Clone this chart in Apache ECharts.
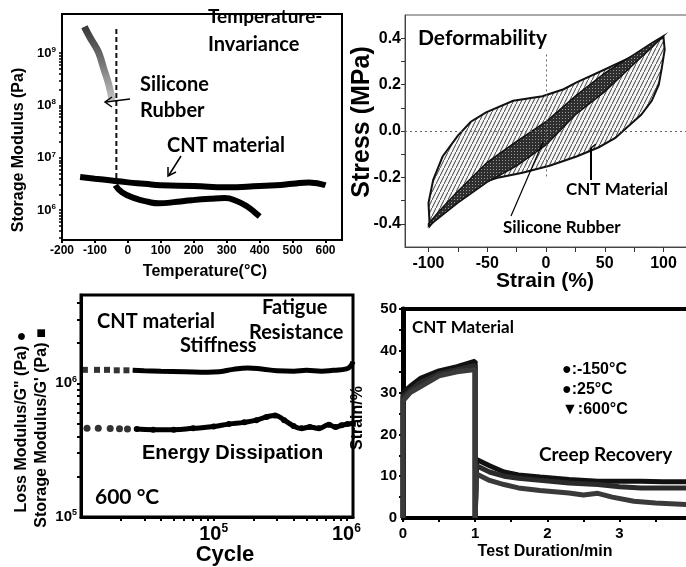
<!DOCTYPE html>
<html><head><meta charset="utf-8">
<script src="https://cdn.jsdelivr.net/npm/echarts@6/dist/echarts.min.js"></script>
<style>html,body{margin:0;padding:0;background:#fff}#c{width:686px;height:567px}</style>
</head><body><div id="c"></div>
<script>
// ---------- Panel A: storage modulus vs temperature ----------
const tempTicks = [-200, -100, 0, 100, 200, 300, 400, 500, 600];
const modExpTicks = [6, 7, 8, 9];
const cntTemp = [-145, -100, -50, 0, 50, 100, 200, 300, 400, 450, 500, 550, 600];
const cntMod  = [4.3e6, 4.0e6, 3.7e6, 3.4e6, 3.2e6, 3.0e6, 2.9e6, 2.75e6, 2.9e6, 3.0e6, 3.2e6, 3.4e6, 3.0e6];
const silHiTemp = [-132, -115, -100, -88, -73, -58, -48];
const silHiMod  = [3.2e9, 2.0e9, 1.4e9, 1.0e9, 5.0e8, 2.5e8, 1.25e8];
const silLoTemp = [-38, -18, 20, 60, 94, 150, 194, 250, 294, 330, 360, 385, 400];
const silLoMod  = [3.0e6, 2.2e6, 1.7e6, 1.45e6, 1.35e6, 1.45e6, 1.55e6, 1.65e6, 1.7e6, 1.5e6, 1.2e6, 9.1e5, 7.6e5];
const transTemp = [-35, -35];
const transMod  = [2.9e9, 3.7e6];

// ---------- Panel B: stress-strain hysteresis ----------
const strainTicks = [-100, -50, 0, 50, 100];
const stressTicks = [-0.4, -0.2, 0, 0.2, 0.4];
const cntLoopStrain = [-99, -100, -96, -88, -75, -64, -51, -28, -3, 15, 26, 50, 75, 100, 101, 98.5, 96, 90, 81, 70, 59, 45, 26, 3, -20, -40, -59, -76, -90, -99];
const cntLoopStress = [-0.41, -0.31, -0.21, -0.11, -0.02, 0.04, 0.08, 0.13, 0.15, 0.18, 0.21, 0.265, 0.325, 0.405, 0.35, 0.27, 0.20, 0.13, 0.07, 0.02, -0.03, -0.07, -0.11, -0.15, -0.18, -0.20, -0.23, -0.28, -0.355, -0.41];
const silLoopStrain = [-100, -90, -75, -50, -25, 0, 25, 50, 75, 90, 100, 90, 75, 50, 25, 0, -25, -50, -75, -90, -100];
const silLoopStress = [-0.40, -0.34, -0.26, -0.135, -0.045, 0.04, 0.15, 0.25, 0.33, 0.38, 0.41, 0.36, 0.29, 0.17, 0.07, -0.06, -0.15, -0.22, -0.31, -0.37, -0.41];

// ---------- Panel C: fatigue ----------
const cycleExpTicks = [5, 6];
const fatModExpTicks = [5, 6];
const stiffEarlyCyc = [1.07e4, 1.32e4, 1.57e4, 1.86e4, 2.2e4];
const stiffEarlyMod = [1.26e6, 1.26e6, 1.26e6, 1.25e6, 1.25e6];
const stiffCyc = [2.45e4, 3e4, 4e4, 6e4, 9e4, 1.1e5, 1.4e5, 1.8e5, 2.3e5, 3e5, 4e5, 5e5, 6.5e5, 8e5, 1e6, 1.08e6, 1.12e6];
const stiffMod = [1.25e6, 1.24e6, 1.23e6, 1.22e6, 1.21e6, 1.22e6, 1.27e6, 1.3e6, 1.28e6, 1.24e6, 1.23e6, 1.25e6, 1.23e6, 1.25e6, 1.28e6, 1.35e6, 1.45e6];
const dissEarlyCyc = [1.11e4, 1.35e4, 1.66e4, 1.95e4, 2.24e4];
const dissEarlyMod = [4.6e5, 4.6e5, 4.58e5, 4.57e5, 4.55e5];
const dissCyc = [2.63e4, 3.5e4, 5e4, 7e4, 1e5, 1.3e5, 1.7e5, 2.1e5, 2.5e5, 2.9e5, 3.4e5, 4e5, 4.6e5, 5.3e5, 6.2e5, 7.4e5, 8.3e5, 9.2e5, 1.02e6, 1.12e6];
const dissMod = [4.55e5, 4.5e5, 4.5e5, 4.6e5, 4.75e5, 4.95e5, 5.1e5, 5.3e5, 5.6e5, 5.75e5, 5.3e5, 4.8e5, 4.6e5, 4.7e5, 4.6e5, 4.9e5, 4.7e5, 4.85e5, 4.95e5, 5.0e5];

// ---------- Panel D: creep recovery ----------
const timeTicks = [0, 1, 2, 3];
const creepPctTicks = [0, 10, 20, 30, 40, 50];
const tM150 = [0, 0, 0.1, 0.25, 0.5, 0.75, 1.0, 1.0, 1.02, 1.2, 1.4, 1.6, 1.9, 2.3, 2.7, 3.0, 3.3, 3.6, 3.95];
const sM150 = [0, 30, 31.5, 33.5, 35.2, 36.2, 37.5, 0, 14, 12.5, 11, 10.3, 9.8, 9.2, 8.8, 8.8, 8.8, 8.7, 8.7];
const t25 = [0, 0, 0.1, 0.25, 0.5, 0.75, 1.0, 1.0, 1.02, 1.2, 1.4, 1.6, 1.9, 2.3, 2.7, 3.0, 3.3, 3.6, 3.95];
const s25 = [0, 29, 30.5, 32.5, 34.5, 35.5, 36.5, 0, 12.5, 11, 10, 9.5, 9, 8.4, 8, 7.5, 7.2, 7.2, 7.2];
const t600 = [0, 0, 0.1, 0.25, 0.5, 0.75, 1.0, 1.0, 1.02, 1.2, 1.4, 1.6, 1.9, 2.3, 2.5, 2.7, 2.9, 3.2, 3.5, 3.95];
const s600 = [0, 28, 30, 31.5, 34, 35, 35.5, 0, 10.5, 9, 8, 7.2, 6.6, 6, 5.5, 5.9, 5, 4, 3.6, 3.2];

// ---------- helpers ----------
const L = Math.log10;
const zipLog = (xs, ys, logX) => xs.map((x, i) => [logX ? L(x) : x, L(ys[i])]);
const zip = (xs, ys) => xs.map((x, i) => [x, ys[i]]);
const minorLog = (a, b) => { const r = []; for (let n = a; n < b; n++) for (let k = 1; k < 10; k++) r.push(n + L(k)); r.push(b); return r; };
const TF = '"Liberation Sans", Arial, sans-serif';
const AF = 'Lato, "Open Sans", sans-serif';
const supFmt = v => '{b|10}{s|' + Math.round(v) + '}';
const supRich = (fs) => ({ b: { fontSize: fs, fontWeight: 'bold', fontFamily: TF, color: '#000' },
                           s: { fontSize: Math.round(fs * 0.62), fontWeight: 'bold', fontFamily: TF, color: '#000', padding: [0, 0, Math.round(fs * 0.55), 0] } });

function hatch() {
  const c = document.createElement('canvas'); c.width = 4; c.height = 8;
  const g = c.getContext('2d'); g.fillStyle = '#f6f6f6'; g.fillRect(0, 0, 4, 8);
  g.strokeStyle = '#2a2a2a'; g.lineWidth = 0.9; g.beginPath(); g.moveTo(-1, 10); g.lineTo(5, -2); g.stroke();
  return c;
}
function darkHatch() {
  const c = document.createElement('canvas'); c.width = 3; c.height = 3;
  const g = c.getContext('2d'); g.fillStyle = '#2e2e2e'; g.fillRect(0, 0, 3, 3);
  g.fillStyle = '#9a9a9a'; g.fillRect(1, 1, 1, 1);
  return c;
}
function loopRenderer(xs, ys, fill, lw) {
  return function (params, api) {
    const pts = xs.map((x, i) => api.coord([x, ys[i]]));
    return { type: 'polygon', shape: { points: pts }, style: { fill: fill, stroke: '#111', lineWidth: lw } };
  };
}

const chart = echarts.init(document.getElementById('c'), null, { renderer: 'canvas' });

const baseLabel = (fs) => ({ fontFamily: TF, fontWeight: 'bold', fontSize: fs, color: '#000' });

const option = {
  animation: false,
  backgroundColor: '#fff',
  grid: [
    { left: 62, top: 14, width: 280, height: 226, show: true, borderColor: '#000', borderWidth: 2, outerBoundsMode: 'none' },
    { left: 405, top: 15, width: 282, height: 232, show: true, borderColor: '#555', borderWidth: 1, outerBoundsMode: 'none' },
    { left: 81, top: 295, width: 272, height: 222, show: true, borderColor: '#000', borderWidth: 3, outerBoundsMode: 'none' },
    { left: 403, top: 309, width: 285, height: 209, show: true, borderColor: '#000', borderWidth: 4, outerBoundsMode: 'none' }
  ],
  xAxis: [
    { gridIndex: 0, type: 'value', min: -200, max: 650, splitLine: { show: false },
      axisLine: { onZero: false, lineStyle: { color: '#000', width: 2 } },
      axisTick: { customValues: tempTicks, length: 3, lineStyle: { color: '#000', width: 2 } },
      axisLabel: Object.assign(baseLabel(12), { customValues: tempTicks, margin: 5 }) },
    { gridIndex: 1, type: 'value', min: -120, max: 120, splitLine: { show: false },
      axisLine: { onZero: false, lineStyle: { color: '#444', width: 1 } },
      axisTick: { customValues: [-100, -75, -50, -25, 0, 25, 50, 75, 100], length: 5, lineStyle: { color: '#333' } },
      axisLabel: Object.assign(baseLabel(16), { customValues: strainTicks, margin: 9 }) },
    { gridIndex: 2, type: 'value', min: 4, max: 6.05, splitLine: { show: false },
      axisLine: { onZero: false, lineStyle: { color: '#000', width: 3 } },
      axisTick: { customValues: minorLog(4, 6).filter(v => v > 4.01), length: 4, inside: false, lineStyle: { color: '#000', width: 2 } },
      axisLabel: { customValues: cycleExpTicks, formatter: supFmt, rich: supRich(20), margin: 6 } },
    { gridIndex: 3, type: 'value', min: 0, max: 3.95, splitLine: { show: false },
      axisLine: { onZero: false, lineStyle: { color: '#000', width: 4 } },
      axisTick: { customValues: [0, 0.5, 1, 1.5, 2, 2.5, 3, 3.5], length: 4, lineStyle: { color: '#000', width: 2 } },
      axisLabel: Object.assign(baseLabel(15), { customValues: timeTicks, margin: 8 }) }
  ],
  yAxis: [
    { gridIndex: 0, type: 'value', min: 5.43, max: 9.75, splitLine: { show: false },
      axisLine: { onZero: false, lineStyle: { color: '#000', width: 2 } },
      axisTick: { customValues: minorLog(5, 9).filter(v => v > 5.43), length: 3, lineStyle: { color: '#000', width: 1.5 } },
      axisLabel: { customValues: modExpTicks, formatter: supFmt, rich: supRich(13), margin: 6 } },
    { gridIndex: 1, type: 'value', min: -0.5, max: 0.5, splitLine: { show: false },
      axisLine: { onZero: false, lineStyle: { color: '#444', width: 1 } },
      axisTick: { customValues: [-0.4, -0.3, -0.2, -0.1, 0, 0.1, 0.2, 0.3, 0.4], length: 4, lineStyle: { color: '#333' } },
      axisLabel: Object.assign(baseLabel(16), { customValues: stressTicks, formatter: v => v.toFixed(1), margin: 4 }) },
    { gridIndex: 2, type: 'value', min: 5, max: 6.66, splitLine: { show: false },
      axisLine: { onZero: false, lineStyle: { color: '#000', width: 3 } },
      axisTick: { customValues: minorLog(5, 6).concat([6 + L(2), 6 + L(3), 6 + L(4)]).filter(v => v > 5.01), length: 4, lineStyle: { color: '#000', width: 2 } },
      axisLabel: { customValues: fatModExpTicks, formatter: supFmt, rich: supRich(15), margin: 4 } },
    { gridIndex: 3, type: 'value', min: 0, max: 50, splitLine: { show: false },
      axisLine: { onZero: false, lineStyle: { color: '#000', width: 5 } },
      axisTick: { customValues: [5, 10, 15, 20, 25, 30, 35, 40, 45, 50], length: 4, lineStyle: { color: '#000', width: 2 } },
      axisLabel: Object.assign(baseLabel(15), { customValues: creepPctTicks, margin: 6 }) }
  ],
  series: [
    // Panel A
    { type: 'line', xAxisIndex: 0, yAxisIndex: 0, data: zipLog(cntTemp, cntMod, false), smooth: true, symbol: 'none',
      lineStyle: { color: '#000', width: 6 } },
    { type: 'line', xAxisIndex: 0, yAxisIndex: 0, data: zipLog(silHiTemp, silHiMod, false), smooth: true, symbol: 'none',
      lineStyle: { width: 7, color: { type: 'linear', x: 0, y: 0, x2: 0, y2: 1, colorStops: [{ offset: 0, color: '#333' }, { offset: 0.5, color: '#777' }, { offset: 1, color: '#c8c8c8' }] } } },
    { type: 'line', xAxisIndex: 0, yAxisIndex: 0, data: zipLog(silLoTemp, silLoMod, false), smooth: true, symbol: 'none',
      lineStyle: { color: '#000', width: 6 } },
    { type: 'line', xAxisIndex: 0, yAxisIndex: 0, data: zipLog(transTemp, transMod, false), symbol: 'none',
      lineStyle: { color: '#111', width: 2, type: [5, 3] } },
    // Panel B
    { type: 'custom', xAxisIndex: 1, yAxisIndex: 1, data: [[0, 0]], silent: true, clip: false, z: 3,
      renderItem: loopRenderer(cntLoopStrain, cntLoopStress, { image: hatch(), repeat: 'repeat' }, 2) },
    { type: 'custom', xAxisIndex: 1, yAxisIndex: 1, data: [[0, 0]], silent: true, clip: false, z: 4,
      renderItem: loopRenderer(silLoopStrain, silLoopStress, { image: darkHatch(), repeat: 'repeat' }, 1.5) },
    { type: 'line', xAxisIndex: 1, yAxisIndex: 1, data: [], z: 1,
      markLine: { silent: true, symbol: 'none', label: { show: false },
        lineStyle: { color: '#666', type: [2, 3], width: 1 },
        data: [{ yAxis: 0 }, [{ coord: [0, 0.33] }, { coord: [0, -0.2] }]] } },
    // Panel C
    { type: 'line', xAxisIndex: 2, yAxisIndex: 2, data: zipLog(stiffCyc, stiffMod, true), smooth: true, symbol: 'none',
      lineStyle: { color: '#000', width: 5 } },
    { type: 'scatter', xAxisIndex: 2, yAxisIndex: 2, data: zipLog(stiffEarlyCyc, stiffEarlyMod, true), symbol: 'rect', symbolSize: 6,
      itemStyle: { color: '#000' } },
    { type: 'line', xAxisIndex: 2, yAxisIndex: 2, data: zipLog(dissCyc, dissMod, true), smooth: true, symbol: 'circle', symbolSize: 6,
      showSymbol: true, itemStyle: { color: '#000' }, lineStyle: { color: '#000', width: 5 } },
    { type: 'scatter', xAxisIndex: 2, yAxisIndex: 2, data: zipLog(dissEarlyCyc, dissEarlyMod, true), symbol: 'circle', symbolSize: 7,
      itemStyle: { color: '#000' } },
    // Panel D
    { type: 'line', xAxisIndex: 3, yAxisIndex: 3, data: zip(tM150, sM150), symbol: 'none', lineStyle: { color: '#111', width: 5 } },
    { type: 'line', xAxisIndex: 3, yAxisIndex: 3, data: zip(t25, s25), symbol: 'none', lineStyle: { color: '#2a2a2a', width: 5 } },
    { type: 'line', xAxisIndex: 3, yAxisIndex: 3, data: zip(t600, s600), symbol: 'none', lineStyle: { color: '#3a3a3a', width: 5 } }
  ],
  graphic: []
};

const g = option.graphic;
function txt(text, x, y, font, align, rot) {
  g.push({ type: 'text', x: x, y: y, rotation: rot || 0, z: 100,
    style: { text: text, font: font, fill: '#000', align: align || 'left', verticalAlign: 'middle' } });
}
function line(x1, y1, x2, y2, w) {
  g.push({ type: 'line', z: 100, shape: { x1, y1, x2, y2 }, style: { stroke: '#000', lineWidth: w || 1.5 } });
}
function head(pts) {
  g.push({ type: 'polyline', z: 100, shape: { points: pts }, style: { stroke: '#000', lineWidth: 1.5, fill: null } });
}
const R = Math.PI / 2;
// Panel A texts
txt('Storage Modulus (Pa)', 19, 150, 'bold 16px ' + TF, 'center', R);
txt('Temperature(°C)', 205, 272, 'bold 16px ' + TF, 'center');
txt('Temperature-', 208, 17, 'bold 19px ' + AF);
txt('Invariance', 208, 45, 'bold 20px ' + AF);
txt('Silicone', 140, 85, 'bold 20px ' + AF);
txt('Rubber', 140, 111, 'bold 20px ' + AF);
txt('CNT material', 167, 146, 'bold 20px ' + AF);
line(130, 99, 106, 102); head([[112, 97], [105, 102], [112, 107]]);
line(181, 156, 169, 175); head([[168, 167], [168, 176], [176, 172]]);
// Panel B texts
txt('Deformability', 418, 38, 'bold 21px ' + AF);
txt('CNT Material', 566, 190, 'bold 17px ' + AF);
txt('Silicone Rubber', 503, 228, 'bold 17px ' + AF);
txt('Stress (MPa)', 362, 122, 'bold 25px ' + TF, 'center', R);
txt('Strain (%)', 545, 281, 'bold 21px ' + TF, 'center');
line(591, 180, 591, 148, 2); line(591, 148, 596, 144, 1.5);
line(511, 216, 543, 142, 1.2);
// Panel C texts
txt('Loss Modulus/G" (Pa) ●', 22, 422, 'bold 16px ' + TF, 'center', R);
txt("Storage Modulus/G' (Pa) ■", 42, 428, 'bold 16px ' + TF, 'center', R);
txt('Cycle', 225, 555, 'bold 22px ' + TF, 'center');
txt('CNT material', 97, 322, 'bold 20px ' + AF);
txt('Fatigue', 262, 308, 'bold 20px ' + AF);
txt('Resistance', 249, 333, 'bold 20px ' + AF);
txt('Stiffness', 180, 346, 'bold 20px ' + AF);
txt('Energy Dissipation', 142, 453, 'bold 20px ' + TF);
txt('600 °C', 95, 497, 'bold 21px ' + AF);
// Panel D texts
txt('Strain/%', 358, 418, 'bold 16px ' + TF, 'center', R);
txt('Test Duration/min', 545, 552, 'bold 16px ' + TF, 'center');
txt('CNT Material', 412, 328, 'bold 17px ' + AF);
txt('●:-150°C', 562, 370, 'bold 16px ' + TF);
txt('●:25°C', 562, 390, 'bold 16px ' + TF);
txt('▼:600°C', 562, 410, 'bold 16px ' + TF);
txt('Creep Recovery', 539, 455, 'bold 19px ' + AF);

chart.setOption(option);
</script></body></html>
